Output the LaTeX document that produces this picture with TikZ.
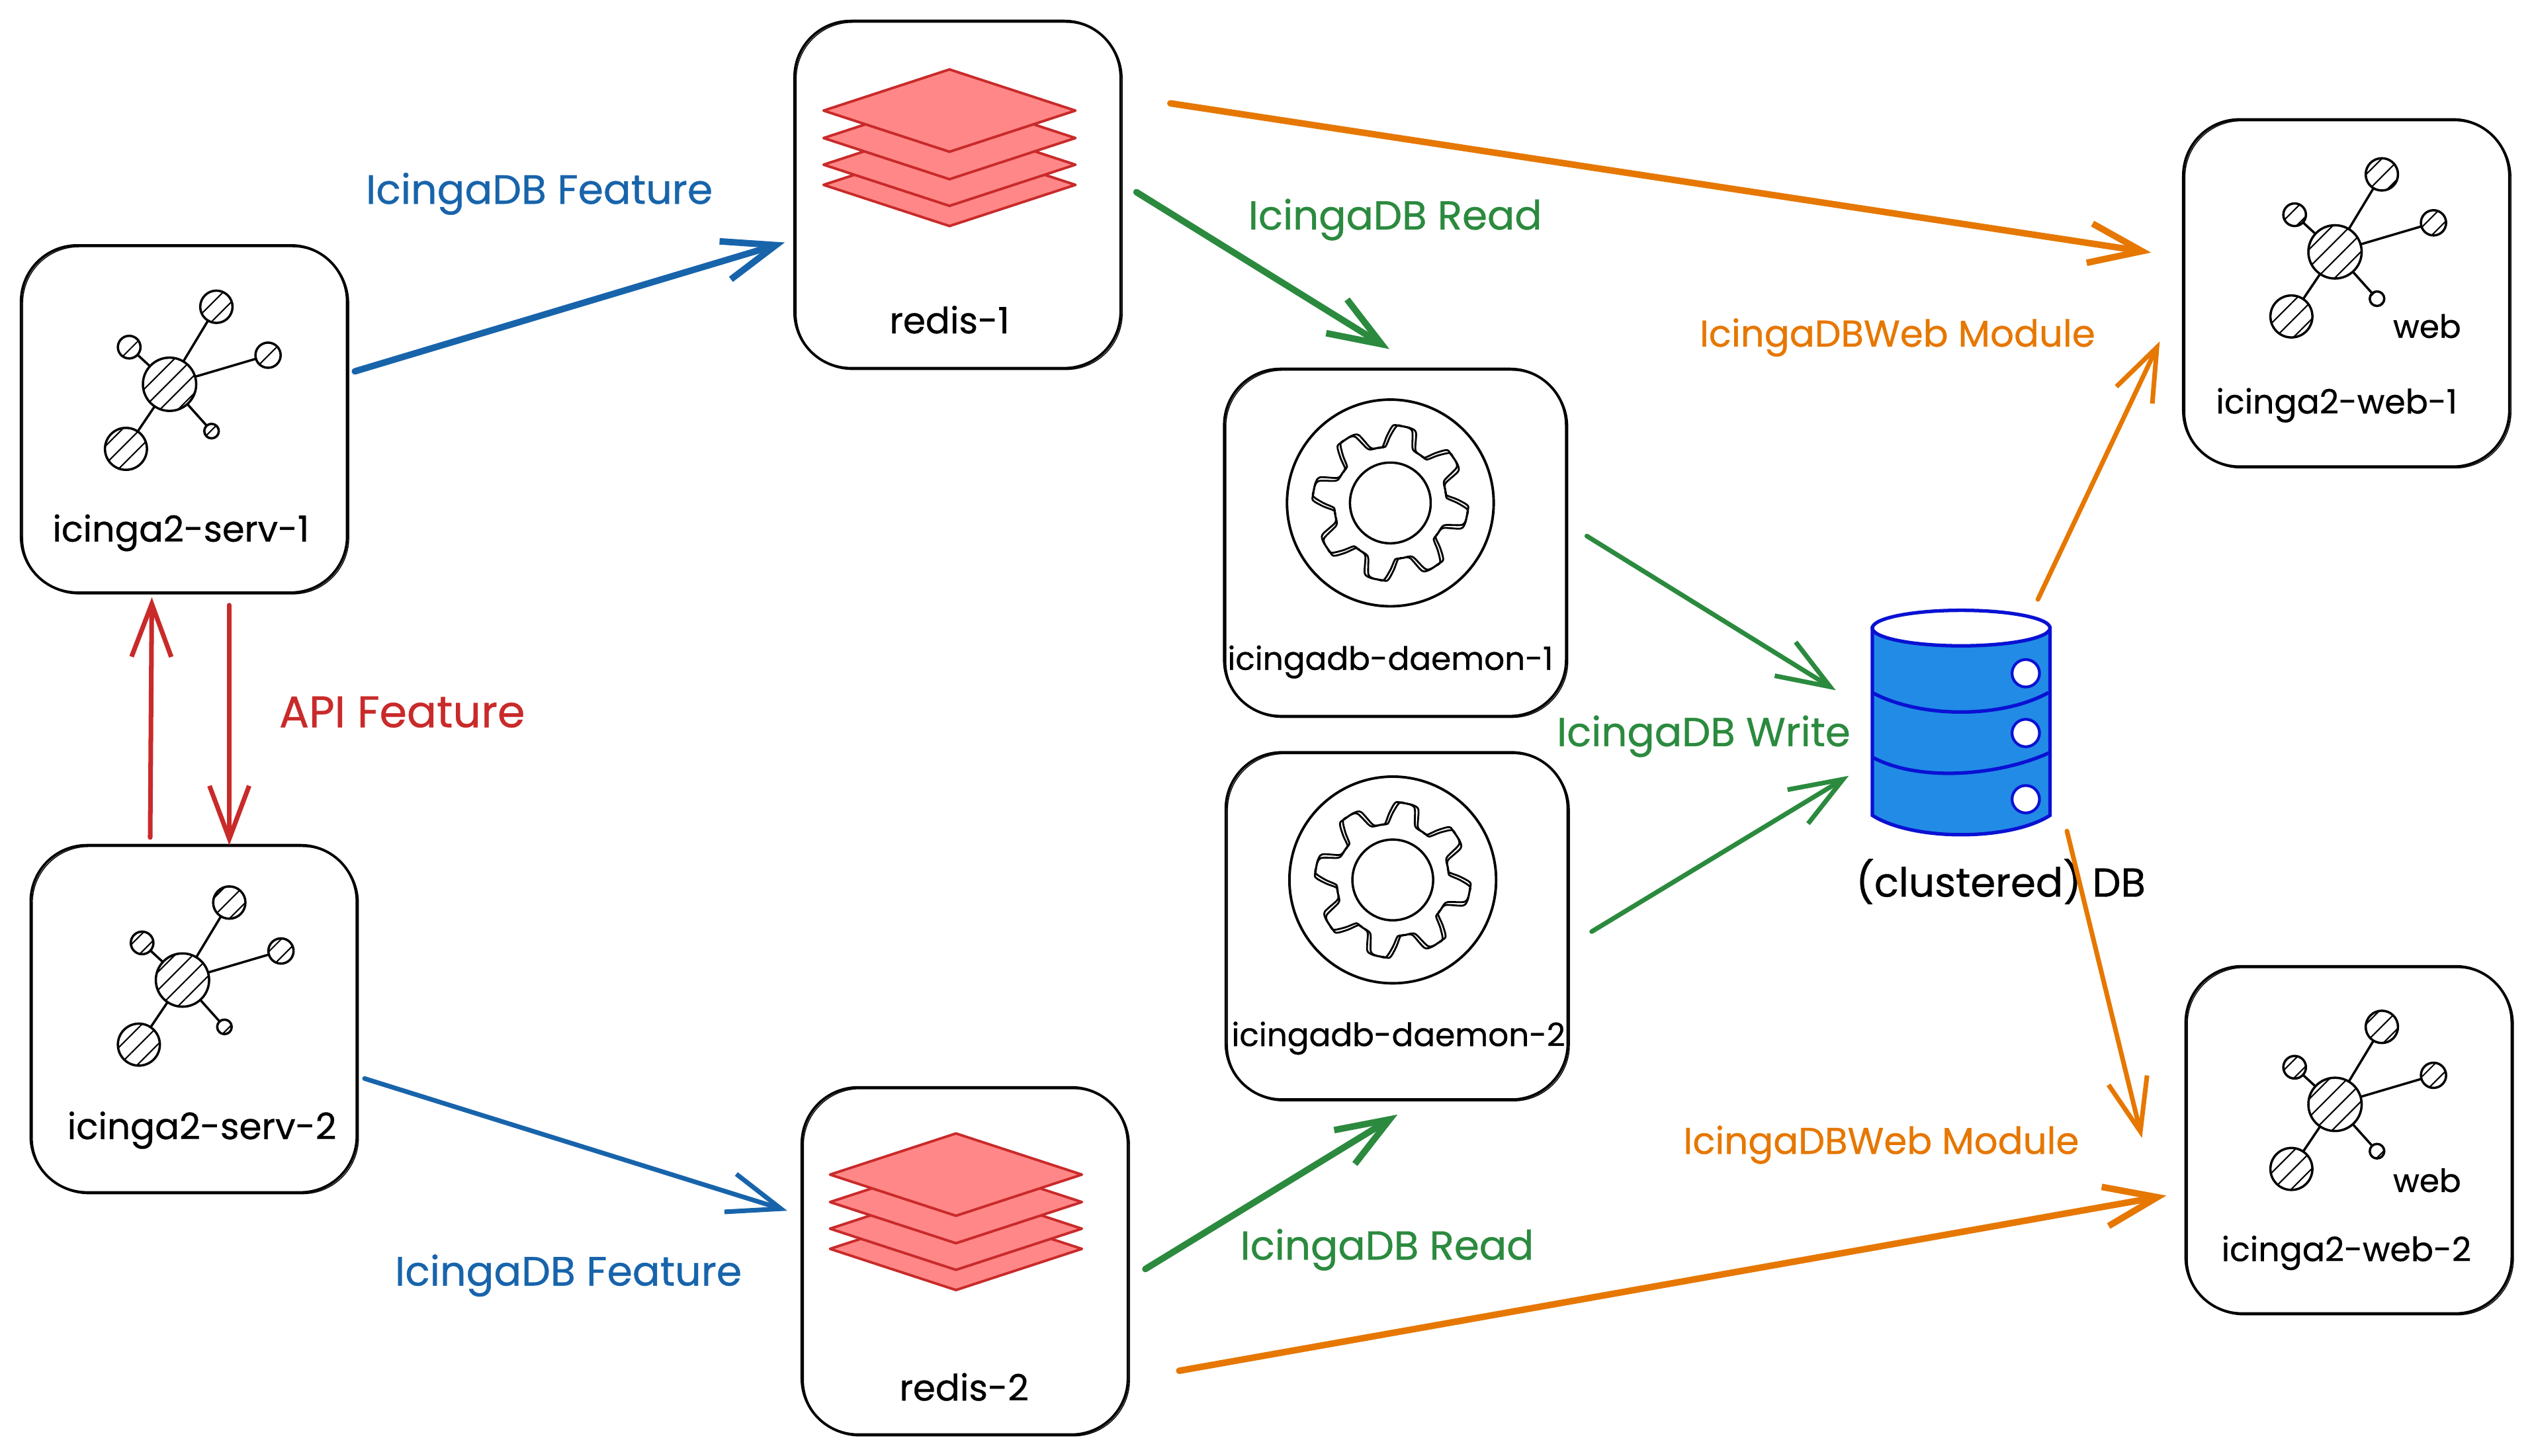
\documentclass[tikz,border=0pt]{standalone}
\usepackage{fontspec}
\setmainfont{Poppins}[FakeBold=0.6]
\usetikzlibrary{
  arrows.meta,  % 开口箭头
  patterns.meta % 斜线填充
}
\definecolor{flowblue}{HTML}{1864AB}
\definecolor{flowred}{HTML}{C92A2A}
\definecolor{flowgreen}{HTML}{2B8A3E}
\definecolor{floworange}{HTML}{E67700}
\definecolor{layerfill}{HTML}{FF8787}
\definecolor{dbfill}{HTML}{228BE6}
\definecolor{dbline}{HTML}{0A11D3}

\begin{document}
\begin{tikzpicture}[
    x=0.024407cm, y=-0.024407cm, % 坐标直接取参考图读数，y 向下
    >=Stealth, line width=1pt,
    hostbox/.style={draw, rounded corners=0.85cm, line width=1.1pt, minimum width=4.93cm, minimum height=5.25cm,
      postaction={draw, line width=.4pt, transform canvas={shift={(.7pt,-.6pt)}}}}, % 手绘感的第二笔
    daemonbox/.style={hostbox, minimum width=5.17cm},
    boxtext/.style={font=\fontsize{#1}{20}\selectfont}, % 字号逐个按宽度调
    thickflow/.style={-{Straight Barb[length=8mm,width=6mm]}, line cap=round, line width=2.8pt, shorten >=-2pt},
    thinflow/.style={-{Straight Barb[length=8mm,width=6mm]}, line cap=round, line width=2pt, shorten >=-2pt},
    hatched/.style={preaction={fill=white}, pattern={Lines[angle=45,distance=5.5pt,line width=.6pt]}},
    hubicon/.pic={ % 中心圆加五个卫星圆
      \foreach \sx/\sy/\sr in {29/-48/10, 61/-18/7.8, -25/-23/7, -27/40/13, 26/29/4.5} {
        \draw (0,0) -- (\sx,\sy);
        \draw[hatched] (\sx,\sy) circle [radius=\sr];
      }
      \draw[hatched] (0,0) circle [radius=16.5];
    },
    layericon/.pic={ % 四层菱形，自下而上
      \foreach \dy in {46,33.5,17,0} {
        \draw[flowred, fill=layerfill, line width=1.1pt, line join=round]
          (-78,\dy) -- (0,\dy-25.5) -- (78,\dy) -- (0,\dy+25.5) -- cycle;
      }
    },
    gearicon/.pic={ % 外圈、齿轮、内圈
      \draw[line width=1.1pt] (0,0) circle [radius=64];
      \foreach \turn in {0,3} {
        \draw[line width=.8pt, rotate=\turn]
          plot[domain=0:355, samples=72, smooth cycle] (\x:{41.5+6.5*max(-1,min(1,2.2*cos(8*\x-90)))});
      }
      \draw (0,0) circle [radius=25];
    },
    dbicon/.pic={ % 圆柱数据库，原点在顶面中心
      \draw[dbline, fill=dbfill, line width=1.5pt] (-55,0) -- (-55,116) .. controls (-30,132) and (30,132) .. (55,116) -- (55,0) -- cycle;
      \draw[dbline, fill=white, line width=1.5pt] (0,0) ellipse [x radius=55, y radius=11];
      \draw[dbline, line width=1.5pt] (-55,40) .. controls (-25,56) and (25,56) .. (54,40);
      \draw[dbline, line width=1.5pt] (-55,80) .. controls (-25,96) and (25,91) .. (55,77);
      \foreach \dy in {28,65,106} {
        \draw[dbline, fill=white, line width=1.2pt] (40,\dy) circle [radius=8.5];
      }
    }
  ]
  \useasboundingbox (0,0) rectangle (1568,901.4); % 固定画幅比例

  % ======= 左侧两台 icinga2 服务器 =======
  \node[hostbox] (serv1) at (114,259.5) {};
  \node[hostbox] (serv2) at (120,631) {};
  \pic at (105,238) {hubicon};
  \pic at (113,607) {hubicon};
  \node[boxtext=15.4] (serv1label) at (112,330) {icinga2-serv-1};
  \node[boxtext=15.6] (serv2label) at (125,700) {icinga2-serv-2};

  % ======= redis 两台 =======
  \node[hostbox] (redis1) at (593,120.5) {};
  \node[hostbox] (redis2) at (597.5,781) {};
  \pic at (588,68.5) {layericon};
  \pic at (592,727.5) {layericon};
  \node[boxtext=15.6] (redis1label) at (588,198) {redis-1};
  \node[boxtext=15.6] (redis2label) at (597,859) {redis-2};

  % ======= icingadb 守护进程 =======
  \node[daemonbox] (daemon1) at (864,336) {};
  \node[daemonbox] (daemon2) at (865,573.5) {};
  \pic at (861,311.5) {gearicon};
  \pic at (862.5,545) {gearicon};
  \node[boxtext=13.8] (daemon1label) at (861,410) {icingadb-daemon-1};
  \node[boxtext=13.8] (daemon2label) at (866,643) {icingadb-daemon-2};

  % ======= 数据库 =======
  \node[minimum width=2.68cm, minimum height=3.42cm, inner sep=0pt] (db) at (1214,453) {}; % 只作连线锚点
  \pic at (1214.5,389) {dbicon};
  \node[boxtext=17.4] (dblabel) at (1239,546) {(clustered) DB};

  % ======= 右侧两台 web =======
  \node[hostbox] (web1) at (1453,181.5) {};
  \node[hostbox] (web2) at (1454.5,706) {};
  \pic at (1446,156) {hubicon};
  \pic at (1446,684) {hubicon};
  \node[boxtext=13.8] (web1tag) at (1503,202) {web};
  \node[boxtext=13.8] (web2tag) at (1503,731) {web};
  \node[boxtext=14.4] (web1label) at (1447,251) {icinga2-web-1};
  \node[boxtext=14.4] (web2label) at (1453,776) {icinga2-web-2};

  % ======= 连线 =======
  \draw[thickflow, flowblue] ([shift={(4,-29.5)}]serv1.east) -- ([shift={(-8,30.5)}]redis1.west);
  \draw[thinflow, flowblue] ([shift={(4,37)}]serv2.east) -- ([shift={(-11,-32)}]redis2.west);
  \draw[thinflow, flowred] ([shift={(-27,-4)}]serv2.north) -- ([shift={(-20,5)}]serv1.south);
  \draw[thinflow, flowred] ([shift={(28,7)}]serv1.south) -- ([shift={(22,-2)}]serv2.north);
  \draw[thickflow, flowgreen] ([shift={(9,-1.5)}]redis1.east) -- ([shift={(-6,-13)}]daemon1.north);
  \draw[thickflow, flowgreen] ([shift={(10,5)}]redis2.east) -- ([shift={(-2,10)}]daemon2.south);
  \draw[thinflow, flowgreen] ([shift={(12,-4)}]daemon1.east) -- ([shift={(-24,-27)}]db.west);
  \draw[thinflow, flowgreen] ([shift={(14,3.5)}]daemon2.east) -- ([shift={(-16,29)}]db.west);
  \draw[thickflow, floworange] ([shift={(30,-56.5)}]redis1.east) -- ([shift={(-22,-25.5)}]web1.west);
  \draw[thickflow, floworange] ([shift={(31,68)}]redis2.east) -- ([shift={(-14,35)}]web2.west);
  \draw[thinflow, floworange] ([shift={(48,-11)}]db.north) -- ([shift={(-15,32.5)}]web1.west);
  \draw[thinflow, floworange] ([shift={(66,-9)}]db.south) -- ([shift={(-27,-4)}]web2.west);

  % ======= 连线文字 =======
  \node[boxtext=17.6, text=flowblue] (feature1) at (334,120) {IcingaDB Feature};
  \node[boxtext=17.6, text=flowblue] (feature2) at (352,790) {IcingaDB Feature};
  \node[boxtext=19, text=flowred] (apifeature) at (249,441) {API Feature};
  \node[boxtext=17.4, text=flowgreen] (read1) at (864,136) {IcingaDB Read};
  \node[boxtext=17.4, text=flowgreen] (read2) at (859,774) {IcingaDB Read};
  \node[boxtext=17.4, text=flowgreen] (write) at (1055,456) {IcingaDB Write};
  \node[boxtext=16, text=floworange] (module1) at (1175,209) {IcingaDBWeb Module};
  \node[boxtext=16, text=floworange] (module2) at (1165,709) {IcingaDBWeb Module};
\end{tikzpicture}
\end{document}
